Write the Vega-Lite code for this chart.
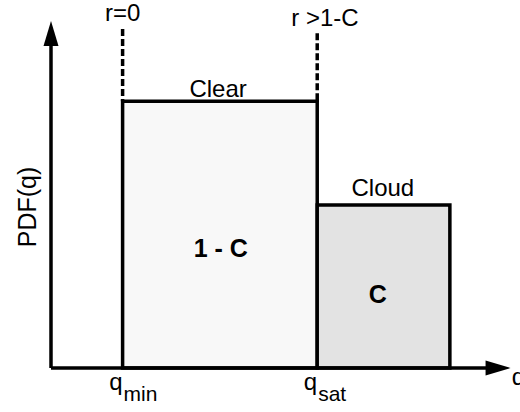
{
  "$schema": "https://vega.github.io/schema/vega-lite/v6.json",
  "width": 459,
  "height": 347,
  "autosize": "none",
  "padding": {"left": 51, "top": 21, "right": 10, "bottom": 44},
  "background": "white",
  "config": {"view": {"stroke": null}, "font": "Liberation Sans"},
  "layer": [
    {
      "data": {"values": [
        {"region": "Clear", "qlo": 1.56, "qhi": 5.8, "pdf": 7.69, "base": 0},
        {"region": "Cloud", "qlo": 5.8, "qhi": 8.69, "pdf": 4.7, "base": 0}
      ]},
      "mark": {"type": "rect", "stroke": "black", "strokeWidth": 3.5},
      "encoding": {
        "x": {"field": "qlo", "type": "quantitative", "scale": {"domain": [0, 10]}, "axis": null},
        "x2": {"field": "qhi"},
        "y": {"field": "pdf", "type": "quantitative", "scale": {"domain": [0, 10]}, "axis": null},
        "y2": {"field": "base"},
        "fill": {"field": "region", "type": "nominal", "scale": {"domain": ["Clear", "Cloud"], "range": ["#f8f8f8", "#e3e3e3"]}, "legend": null}
      }
    },
    {
      "data": {"values": [
        {"q": 1.56, "lo": 7.69, "hi": 9.77},
        {"q": 5.8, "lo": 7.69, "hi": 9.65}
      ]},
      "mark": {"type": "rule", "strokeWidth": 3.5, "strokeDash": [7, 3], "color": "black"},
      "encoding": {
        "x": {"field": "q", "type": "quantitative"},
        "y": {"field": "hi", "type": "quantitative"},
        "y2": {"field": "lo"}
      }
    },
    {
      "data": {"values": [
        {"x0": 0, "x1": 0, "y0": 0, "y1": 9.4},
        {"x0": 0, "x1": 9.5, "y0": 0, "y1": 0}
      ]},
      "mark": {"type": "rule", "strokeWidth": 3.5, "color": "black"},
      "encoding": {
        "x": {"field": "x0", "type": "quantitative"},
        "x2": {"field": "x1"},
        "y": {"field": "y0", "type": "quantitative"},
        "y2": {"field": "y1"}
      }
    },
    {
      "data": {"values": [{"q": 0, "pdf": 9.64}]},
      "mark": {"type": "point", "shape": "M0,-1L0.6,1L-0.6,1Z", "size": 625, "filled": true, "color": "black", "opacity": 1},
      "encoding": {
        "x": {"field": "q", "type": "quantitative"},
        "y": {"field": "pdf", "type": "quantitative"}
      }
    },
    {
      "data": {"values": [{"q": 9.74, "pdf": 0}]},
      "mark": {"type": "point", "shape": "M1,0L-1,-0.6L-1,0.6Z", "size": 625, "filled": true, "color": "black", "opacity": 1},
      "encoding": {
        "x": {"field": "q", "type": "quantitative"},
        "y": {"field": "pdf", "type": "quantitative"}
      }
    },
    {
      "data": {"values": [
        {"label": "r=0", "q": 1.56, "pdf": 10.0},
        {"label": "r >1-C", "q": 5.97, "pdf": 9.87},
        {"label": "Clear", "q": 3.64, "pdf": 7.81},
        {"label": "Cloud", "q": 7.23, "pdf": 4.96}
      ]},
      "mark": {"type": "text", "fontSize": 24, "baseline": "alphabetic", "align": "center", "color": "black"},
      "encoding": {
        "x": {"field": "q", "type": "quantitative"},
        "y": {"field": "pdf", "type": "quantitative"},
        "text": {"field": "label"}
      }
    },
    {
      "data": {"values": [
        {"label": "1 - C", "q": 3.7, "pdf": 3.2},
        {"label": "C", "q": 7.12, "pdf": 1.87}
      ]},
      "mark": {"type": "text", "fontSize": 25, "fontWeight": "bold", "baseline": "alphabetic", "align": "center", "color": "black"},
      "encoding": {
        "x": {"field": "q", "type": "quantitative"},
        "y": {"field": "pdf", "type": "quantitative"},
        "text": {"field": "label"}
      }
    },
    {
      "data": {"values": [{"label": "PDF(q)", "q": -0.5, "pdf": 4.64}]},
      "mark": {"type": "text", "fontSize": 25, "angle": 270, "baseline": "middle", "align": "center", "color": "black"},
      "encoding": {
        "x": {"field": "q", "type": "quantitative"},
        "y": {"field": "pdf", "type": "quantitative"},
        "text": {"field": "label"}
      }
    },
    {
      "data": {"values": [
        {"label": "q", "q": 1.56, "pdf": -0.63},
        {"label": "q", "q": 5.8, "pdf": -0.63}
      ]},
      "mark": {"type": "text", "fontSize": 24, "baseline": "alphabetic", "align": "right", "color": "black"},
      "encoding": {
        "x": {"field": "q", "type": "quantitative"},
        "y": {"field": "pdf", "type": "quantitative"},
        "text": {"field": "label"}
      }
    },
    {
      "data": {"values": [
        {"label": "min", "q": 1.58, "pdf": -0.94},
        {"label": "sat", "q": 5.82, "pdf": -0.94}
      ]},
      "mark": {"type": "text", "fontSize": 21, "baseline": "alphabetic", "align": "left", "color": "black"},
      "encoding": {
        "x": {"field": "q", "type": "quantitative"},
        "y": {"field": "pdf", "type": "quantitative"},
        "text": {"field": "label"}
      }
    },
    {
      "data": {"values": [{"label": "q", "q": 10.04, "pdf": -0.49}]},
      "mark": {"type": "text", "fontSize": 24, "baseline": "alphabetic", "align": "left", "color": "black"},
      "encoding": {
        "x": {"field": "q", "type": "quantitative"},
        "y": {"field": "pdf", "type": "quantitative"},
        "text": {"field": "label"}
      }
    }
  ]
}
